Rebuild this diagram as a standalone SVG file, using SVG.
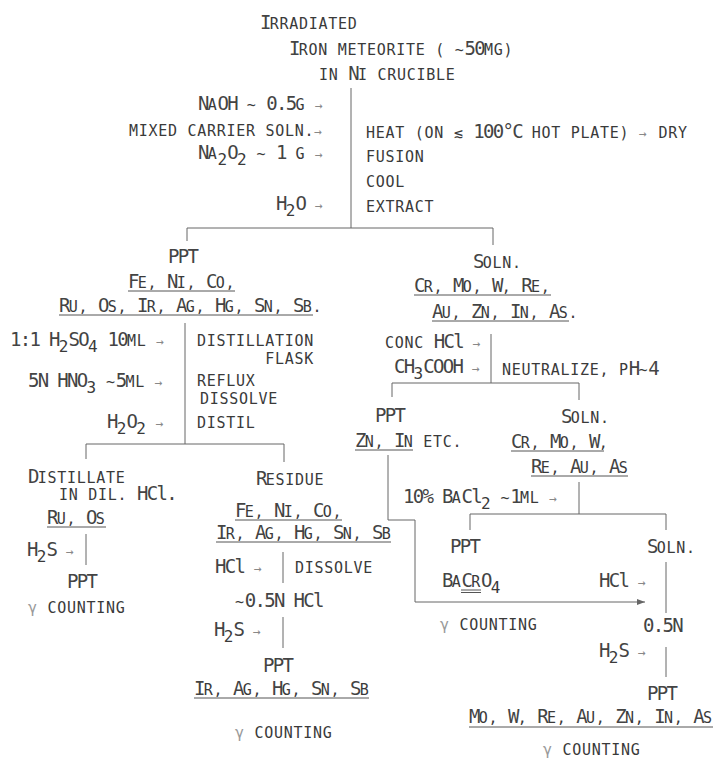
<svg xmlns="http://www.w3.org/2000/svg" width="716" height="767" viewBox="0 0 716 767">
<style>
text{font-family:"DejaVu Sans Mono","Liberation Mono",monospace;font-size:15px;letter-spacing:0.72px;fill:#3a3a3a}
.b{font-size:19px;letter-spacing:-1.69px;fill:#444}
.u{font-size:16px;letter-spacing:0.12px}
.a{font-size:13px;letter-spacing:1.92px;fill:#888}
.g{fill:#999}
.l{stroke:#666;stroke-width:1;fill:none}
.ul{stroke:#555;stroke-width:1;fill:none}
</style>
<defs>
<marker id="ah" viewBox="0 0 8 6" refX="8" refY="3" markerWidth="8" markerHeight="6" orient="auto" markerUnits="userSpaceOnUse"><path d="M0 0L8 3L0 6z" fill="#666"/></marker>
</defs>
<rect width="716" height="767" fill="#fff"/>

<g id="connectors" class="l">
<path d="M351 88V228"/>
<path d="M187 241V228H493V245"/>
<path d="M185 323V444"/>
<path d="M86 459V444H284V462"/>
<path d="M86 534V565"/>
<path d="M283 552V583"/>
<path d="M283 617V648"/>
<path d="M491 334V383"/>
<path d="M392 397V383H579V400"/>
<path d="M579 482V514"/>
<path d="M470 530V514H666V530"/>
<path d="M388 455V520H415V602H645" marker-end="url(#ah)"/>
<path d="M666 562V613"/>
<path d="M666 647V677"/>
</g>

<g id="sample">
<text x="260" y="29"><tspan class="b">I</tspan>RRADIATED</text>
<text x="289" y="55"><tspan class="b">I</tspan>RON METEORITE ( ~<tspan class="b">50</tspan>MG)</text>
<text x="319" y="80">IN <tspan class="b">N</tspan>I CRUCIBLE</text>
</g>

<g id="fusion-reagents">
<text x="198" y="110"><tspan class="b">N</tspan>A<tspan class="b">OH</tspan> ~ <tspan class="b">0.5</tspan>G <tspan class="a">→</tspan></text>
<text x="129" y="136">MIXED CARRIER SOLN.<tspan class="a">→</tspan></text>
<text x="198" y="159"><tspan class="b">N</tspan>A<tspan class="u" dy="6">2</tspan><tspan class="b" dy="-6">O</tspan><tspan class="u" dy="6">2</tspan><tspan dy="-6"> ~ </tspan><tspan class="b">1</tspan> G <tspan class="a">→</tspan></text>
<text x="276" y="210"><tspan class="b">H</tspan><tspan class="u" dy="6">2</tspan><tspan class="b" dy="-6">O</tspan> <tspan class="a">→</tspan></text>
</g>

<g id="fusion-steps">
<text x="366" y="138">HEAT (ON ≲ <tspan class="b">100°C</tspan> HOT PLATE) <tspan class="a">→</tspan> DRY</text>
<text x="366" y="162">FUSION</text>
<text x="366" y="187">COOL</text>
<text x="366" y="212">EXTRACT</text>
</g>

<g id="ppt-1">
<text x="168" y="263"><tspan class="b">PPT</tspan></text>
<text x="128" y="288"><tspan class="b">F</tspan>E, <tspan class="b">N</tspan>I, <tspan class="b">C</tspan>O,</text>
<line class="ul" x1="128" y1="291" x2="235" y2="291"/>
<text x="59" y="312"><tspan class="b">R</tspan>U, <tspan class="b">O</tspan>S, <tspan class="b">I</tspan>R, <tspan class="b">A</tspan>G, <tspan class="b">H</tspan>G, <tspan class="b">S</tspan>N, <tspan class="b">S</tspan>B.</text>
<line class="ul" x1="59" y1="315" x2="313" y2="315"/>
</g>

<g id="distillation-reagents">
<text x="10" y="346"><tspan class="b">1:1 H</tspan><tspan class="u" dy="6">2</tspan><tspan class="b" dy="-6">SO</tspan><tspan class="u" dy="6">4</tspan><tspan class="b" dy="-6"> 10</tspan>ML <tspan class="a">→</tspan></text>
<text x="28" y="387"><tspan class="b">5N HNO</tspan><tspan class="u" dy="6">3</tspan><tspan dy="-6"> ~</tspan><tspan class="b">5</tspan>ML <tspan class="a">→</tspan></text>
<text x="107" y="428"><tspan class="b">H</tspan><tspan class="u" dy="6">2</tspan><tspan class="b" dy="-6">O</tspan><tspan class="u" dy="6">2</tspan><tspan dy="-6"> </tspan><tspan class="a">→</tspan></text>
</g>

<g id="distillation-steps">
<text x="197" y="346">DISTILLATION</text>
<text x="314" y="364" text-anchor="end">FLASK</text>
<text x="197" y="386">REFLUX</text>
<text x="200" y="404">DISSOLVE</text>
<text x="197" y="428">DISTIL</text>
</g>

<g id="distillate">
<text x="28" y="483"><tspan class="b">D</tspan>ISTILLATE</text>
<text x="59" y="500">IN DIL. <tspan class="b">HCl.</tspan></text>
<text x="47" y="524"><tspan class="b">R</tspan>U, <tspan class="b">O</tspan>S</text>
<line class="ul" x1="47" y1="527" x2="106" y2="527"/>
<text x="27" y="556"><tspan class="b">H</tspan><tspan class="u" dy="6">2</tspan><tspan class="b" dy="-6">S</tspan> <tspan class="a">→</tspan></text>
<text x="67" y="588"><tspan class="b">PPT</tspan></text>
<text x="28" y="613"><tspan class="g">γ</tspan> COUNTING</text>
</g>

<g id="residue">
<text x="256" y="485"><tspan class="b">R</tspan>ESIDUE</text>
<text x="235" y="517"><tspan class="b">F</tspan>E, <tspan class="b">N</tspan>I, <tspan class="b">C</tspan>O,</text>
<line class="ul" x1="235" y1="520" x2="342" y2="520"/>
<text x="216" y="539"><tspan class="b">I</tspan>R, <tspan class="b">A</tspan>G, <tspan class="b">H</tspan>G, <tspan class="b">S</tspan>N, <tspan class="b">S</tspan>B</text>
<line class="ul" x1="216" y1="542" x2="391" y2="542"/>
<text x="215" y="573"><tspan class="b">HCl</tspan> <tspan class="a">→</tspan></text>
<text x="295" y="573">DISSOLVE</text>
<text x="235" y="607">~<tspan class="b">0.5N HCl</tspan></text>
<text x="214" y="636"><tspan class="b">H</tspan><tspan class="u" dy="6">2</tspan><tspan class="b" dy="-6">S</tspan> <tspan class="a">→</tspan></text>
<text x="263" y="672"><tspan class="b">PPT</tspan></text>
<text x="194" y="695"><tspan class="b">I</tspan>R, <tspan class="b">A</tspan>G, <tspan class="b">H</tspan>G, <tspan class="b">S</tspan>N, <tspan class="b">S</tspan>B</text>
<line class="ul" x1="194" y1="698" x2="369" y2="698"/>
<text x="235" y="738"><tspan class="g">γ</tspan> COUNTING</text>
</g>

<g id="soln-1">
<text x="473" y="268"><tspan class="b">S</tspan>OLN.</text>
<text x="414" y="292"><tspan class="b">C</tspan>R, <tspan class="b">M</tspan>O, <tspan class="b">W</tspan>, <tspan class="b">R</tspan>E,</text>
<line class="ul" x1="414" y1="295" x2="551" y2="295"/>
<text x="432" y="318"><tspan class="b">A</tspan>U, <tspan class="b">Z</tspan>N, <tspan class="b">I</tspan>N, <tspan class="b">A</tspan>S.</text>
<line class="ul" x1="432" y1="321" x2="569" y2="321"/>
</g>

<g id="neutralize-reagents">
<text x="385" y="348">CONC <tspan class="b">HCl</tspan> <tspan class="a">→</tspan></text>
<text x="394" y="373"><tspan class="b">CH</tspan><tspan class="u" dy="6">3</tspan><tspan class="b" dy="-6">COOH</tspan> <tspan class="a">→</tspan></text>
</g>
<g id="neutralize-step">
<text x="502" y="375">NEUTRALIZE, P<tspan class="b">H</tspan>~<tspan class="b">4</tspan></text>
</g>

<g id="ppt-zn-in">
<text x="375" y="422"><tspan class="b">PPT</tspan></text>
<text x="355" y="447"><tspan class="b">Z</tspan>N, <tspan class="b">I</tspan>N ETC.</text>
<line class="ul" x1="355" y1="450" x2="413" y2="450"/>
</g>

<g id="soln-2">
<text x="561" y="423"><tspan class="b">S</tspan>OLN.</text>
<text x="511" y="448"><tspan class="b">C</tspan>R, <tspan class="b">M</tspan>O, <tspan class="b">W</tspan>,</text>
<line class="ul" x1="511" y1="451" x2="604" y2="451"/>
<text x="531" y="473"><tspan class="b">R</tspan>E, <tspan class="b">A</tspan>U, <tspan class="b">A</tspan>S</text>
<line class="ul" x1="531" y1="476" x2="628" y2="476"/>
</g>

<g id="bacl2-reagent">
<text x="403" y="503"><tspan class="b">10%</tspan> <tspan class="b">B</tspan>A<tspan class="b">Cl</tspan><tspan class="u" dy="6">2</tspan><tspan dy="-6"> ~</tspan><tspan class="b">1</tspan>ML <tspan class="a">→</tspan></text>
</g>

<g id="ppt-bacro4">
<text x="450" y="553"><tspan class="b">PPT</tspan></text>
<text x="442" y="587"><tspan class="b">B</tspan>A<tspan class="b">C</tspan>R<tspan class="b">O</tspan><tspan class="u" dy="6">4</tspan></text>
<line class="ul" x1="461" y1="590" x2="481" y2="590"/>
<line class="ul" x1="461" y1="592.5" x2="481" y2="592.5"/>
<text x="440" y="630"><tspan class="g">γ</tspan> COUNTING</text>
</g>

<g id="soln-3">
<text x="647" y="553"><tspan class="b">S</tspan>OLN.</text>
<text x="599" y="587"><tspan class="b">HCl</tspan> <tspan class="a">→</tspan></text>
<text x="643" y="632"><tspan class="b">0.5N</tspan></text>
<text x="599" y="657"><tspan class="b">H</tspan><tspan class="u" dy="6">2</tspan><tspan class="b" dy="-6">S</tspan> <tspan class="a">→</tspan></text>
<text x="647" y="700"><tspan class="b">PPT</tspan></text>
<text x="469" y="723"><tspan class="b">M</tspan>O, <tspan class="b">W</tspan>, <tspan class="b">R</tspan>E, <tspan class="b">A</tspan>U, <tspan class="b">Z</tspan>N, <tspan class="b">I</tspan>N, <tspan class="b">A</tspan>S</text>
<line class="ul" x1="469" y1="727" x2="713" y2="727"/>
<text x="543" y="755"><tspan class="g">γ</tspan> COUNTING</text>
</g>
</svg>
